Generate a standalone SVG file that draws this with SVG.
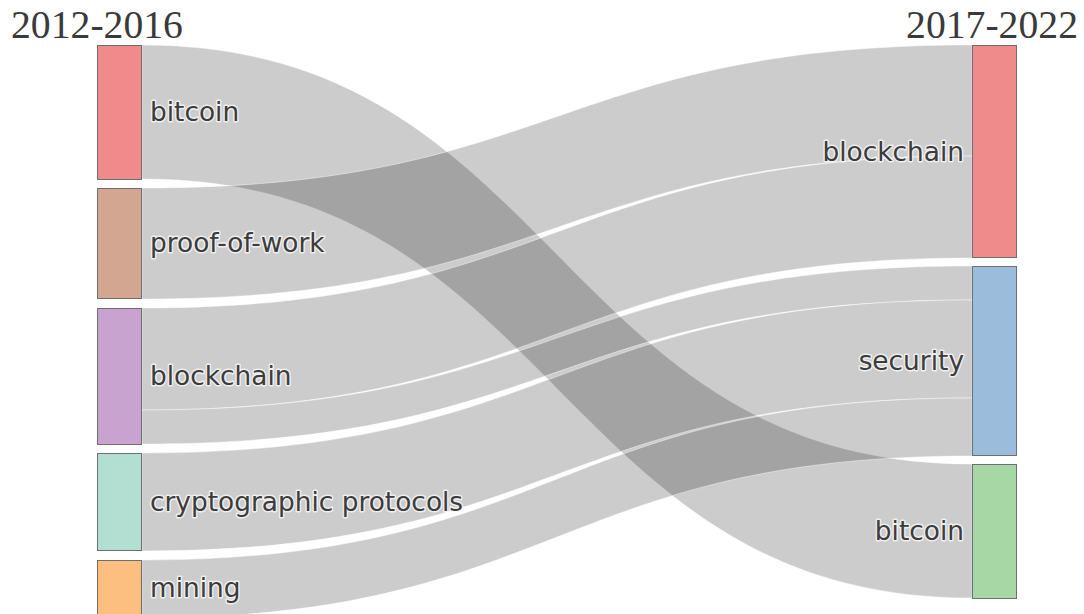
<svg xmlns="http://www.w3.org/2000/svg" width="1084" height="614" viewBox="0 0 1084 614">
  <style>
    .link { fill: rgba(0,0,0,0.2); stroke: #ffffff; stroke-width: 0.6; stroke-opacity: 0.7; }
    .node { stroke: #6e6e6e; stroke-width: 1; }
    .lbl { font-family: "DejaVu Sans", Verdana, sans-serif; font-size: 26.4px; fill: #3c3c3c; stroke: #ffffff; stroke-width: 3; stroke-opacity: 0.7; paint-order: stroke; stroke-linejoin: round; }
    .title { font-family: "Liberation Serif", "Times New Roman", serif; font-size: 39.7px; fill: #3a3a3a; }
  </style>
  <rect width="1084" height="614" fill="#ffffff"/>
  <text class="title" x="11" y="38">2012-2016</text>
  <text class="title" x="1078" y="38" text-anchor="end">2017-2022</text>
  <g id="links">
    <path class="link" d="M142,45 C557,45 557,464 972,464 L972,598 C557,598 557,179 142,179 Z"/>
    <path class="link" d="M142,188 C557,188 557,45 972,45 L972,156 C557,156 557,299 142,299 Z"/>
    <path class="link" d="M142,308 C557,308 557,156 972,156 L972,258 C557,258 557,410 142,410 Z"/>
    <path class="link" d="M142,410 C557,410 557,266 972,266 L972,300 C557,300 557,444 142,444 Z"/>
    <path class="link" d="M142,453 C557,453 557,300 972,300 L972,398 C557,398 557,551 142,551 Z"/>
    <path class="link" d="M142,560 C557,560 557,398 972,398 L972,456 C557,456 557,618 142,618 Z"/>
  </g>
  <g id="node-l-bitcoin">
    <rect class="node" x="97.5" y="45.5" width="44" height="134" fill="#f08b8b"/>
    <text class="lbl" x="150" y="121">bitcoin</text>
  </g>
  <g id="node-l-proof-of-work">
    <rect class="node" x="97.5" y="188.5" width="44" height="110" fill="#d2a690"/>
    <text class="lbl" x="150" y="252">proof-of-work</text>
  </g>
  <g id="node-l-blockchain">
    <rect class="node" x="97.5" y="308.5" width="44" height="136" fill="#c9a3cf"/>
    <text class="lbl" x="150" y="385">blockchain</text>
  </g>
  <g id="node-l-crypto">
    <rect class="node" x="97.5" y="453.5" width="44" height="97" fill="#b2dfd2"/>
    <text class="lbl" x="150" y="511">cryptographic protocols</text>
  </g>
  <g id="node-l-mining">
    <rect class="node" x="97.5" y="560.5" width="44" height="58" fill="#fdbf7f"/>
    <text class="lbl" x="150" y="597">mining</text>
  </g>
  <g id="node-r-blockchain">
    <rect class="node" x="972.5" y="45.5" width="44" height="212" fill="#f08b8b"/>
    <text class="lbl" x="964" y="161" text-anchor="end">blockchain</text>
  </g>
  <g id="node-r-security">
    <rect class="node" x="972.5" y="266.5" width="44" height="189" fill="#9bbcda"/>
    <text class="lbl" x="964" y="370" text-anchor="end">security</text>
  </g>
  <g id="node-r-bitcoin">
    <rect class="node" x="972.5" y="464.5" width="44" height="134" fill="#a6d7a4"/>
    <text class="lbl" x="964" y="540" text-anchor="end">bitcoin</text>
  </g>
</svg>
